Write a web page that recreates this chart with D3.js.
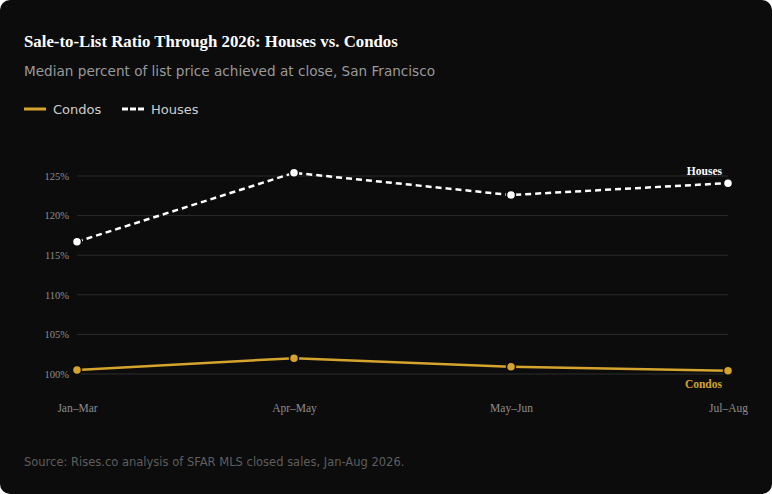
<!DOCTYPE html>
<html>
<head>
    <title>Sale-to-List Ratio</title>
</head>
<style>
body { margin: 0; background: #ffffff; }
svg { display: block; }
</style>
<body>

<script src="https://cdnjs.cloudflare.com/ajax/libs/d3/7.8.5/d3.min.js"></script>
<script>

var periods = ["Jan\u2013Mar", "Apr\u2013May", "May\u2013Jun", "Jul\u2013Aug"];
var houses = [116.7, 125.4, 122.6, 124.1];
var condos = [100.5, 102.0, 100.9, 100.4];
var yTicks = [100, 105, 110, 115, 120, 125];

var w = 772;
var h = 494;
var gold = "#d4a42c";
var serif = "'Liberation Serif', 'Times New Roman', serif";
var sans = "'DejaVu Sans', sans-serif";

var svg = d3.select("body").append("svg")
                .attr("width", w)
                .attr("height", h);

svg.append("rect")
    .attr("width", w)
    .attr("height", h)
    .attr("rx", 10)
    .attr("fill", "#0c0c0c");

// titles
svg.append("text")
    .attr("x", 24).attr("y", 47)
    .attr("font-family", serif)
    .attr("font-weight", "bold")
    .attr("font-size", "16.8px")
    .attr("fill", "#ffffff")
    .text("Sale-to-List Ratio Through 2026: Houses vs. Condos");

svg.append("text")
    .attr("x", 24).attr("y", 76)
    .attr("font-family", sans)
    .attr("font-size", "13.6px")
    .attr("fill", "#9a9a9a")
    .text("Median percent of list price achieved at close, San Francisco");

// legend
var legend = svg.append("g").attr("transform", "translate(24,109)");
legend.append("line")
    .attr("x1", 0).attr("x2", 22)
    .attr("stroke", gold).attr("stroke-width", 3);
legend.append("text")
    .attr("x", 29).attr("y", 4.5)
    .attr("font-family", sans).attr("font-size", "13px")
    .attr("fill", "#cfcfcf")
    .text("Condos");
legend.append("line")
    .attr("x1", 98).attr("x2", 120)
    .attr("stroke", "#ffffff").attr("stroke-width", 3)
    .attr("stroke-dasharray", "6,2");
legend.append("text")
    .attr("x", 127).attr("y", 4.5)
    .attr("font-family", sans).attr("font-size", "13px")
    .attr("fill", "#cfcfcf")
    .text("Houses");

// scales
var xScale = d3.scalePoint()
                .domain(periods)
                .range([77, 728]);
var yScale = d3.scaleLinear()
                .domain([100, 125])
                .range([374, 176]);

// gridlines
svg.append("g")
    .selectAll("line")
    .data(yTicks)
    .enter()
    .append("line")
    .attr("x1", 77)
    .attr("x2", 728)
    .attr("y1", function(d) { return yScale(d); })
    .attr("y2", function(d) { return yScale(d); })
    .attr("stroke", "#2c2c2c")
    .attr("stroke-width", 1);

// y axis
var yAxis = svg.append("g")
    .attr("transform", "translate(69,0)")
    .call(d3.axisLeft(yScale).tickValues(yTicks).tickSize(0).tickFormat(function(d) { return d + "%"; }));
yAxis.select(".domain").remove();
yAxis.selectAll("text")
    .attr("font-family", serif)
    .attr("font-size", "10.5px")
    .attr("fill", "#8c8c8c")
    .attr("x", 0);

// x axis
var xAxis = svg.append("g")
    .attr("transform", "translate(0,403)")
    .call(d3.axisBottom(xScale).tickSize(0));
xAxis.select(".domain").remove();
xAxis.selectAll("text")
    .attr("font-family", serif)
    .attr("font-size", "11.5px")
    .attr("fill", "#8c8c8c")
    .attr("dy", "0.71em")
    .attr("y", 1);

var line = d3.line()
    .x(function(d, i) { return xScale(periods[i]); })
    .y(function(d) { return yScale(d); });

// condos
svg.append("path")
    .datum(condos)
    .attr("d", line)
    .attr("fill", "none")
    .attr("stroke", gold)
    .attr("stroke-width", 2.5);
svg.append("g")
    .selectAll("circle")
    .data(condos)
    .enter()
    .append("circle")
    .attr("cx", function(d, i) { return xScale(periods[i]); })
    .attr("cy", function(d) { return yScale(d); })
    .attr("r", 4.5)
    .attr("fill", gold)
    .attr("stroke", "#0c0c0c")
    .attr("stroke-width", 1.5);

// houses
svg.append("path")
    .datum(houses)
    .attr("d", line)
    .attr("fill", "none")
    .attr("stroke", "#ffffff")
    .attr("stroke-width", 2.5)
    .attr("stroke-dasharray", "6,4");
svg.append("g")
    .selectAll("circle")
    .data(houses)
    .enter()
    .append("circle")
    .attr("cx", function(d, i) { return xScale(periods[i]); })
    .attr("cy", function(d) { return yScale(d); })
    .attr("r", 4.5)
    .attr("fill", "#ffffff")
    .attr("stroke", "#0c0c0c")
    .attr("stroke-width", 1.5);

// end labels
svg.append("text")
    .attr("x", xScale(periods[3]) - 6)
    .attr("y", yScale(houses[3]) - 8)
    .attr("text-anchor", "end")
    .attr("font-family", serif)
    .attr("font-weight", "bold")
    .attr("font-size", "11.5px")
    .attr("fill", "#ffffff")
    .text("Houses");
svg.append("text")
    .attr("x", xScale(periods[3]) - 6)
    .attr("y", yScale(condos[3]) + 17)
    .attr("text-anchor", "end")
    .attr("font-family", serif)
    .attr("font-weight", "bold")
    .attr("font-size", "11.5px")
    .attr("fill", gold)
    .text("Condos");

// source
svg.append("text")
    .attr("x", 24).attr("y", 466)
    .attr("font-family", sans)
    .attr("font-size", "11.5px")
    .attr("fill", "#5e5e5e")
    .text("Source: Rises.co analysis of SFAR MLS closed sales, Jan-Aug 2026.");

</script>
</body>
</html>
